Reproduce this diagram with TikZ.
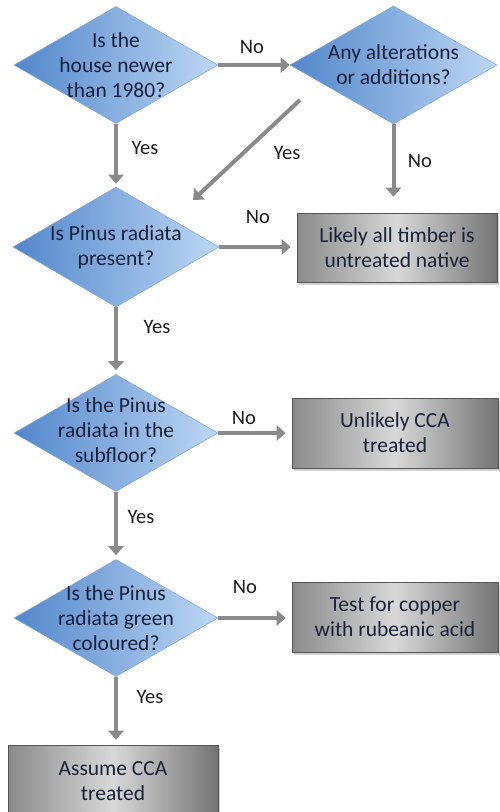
\documentclass[tikz,border=0pt]{standalone}
\usepackage{fontspec}
\setmainfont{Carlito}
\usetikzlibrary{shapes.geometric,arrows.meta,shadows}
\definecolor{diaL}{HTML}{5286CC}
\definecolor{diaR}{HTML}{BDD7F3}
\definecolor{diaB}{HTML}{7FA9DA}
\definecolor{txtC}{HTML}{17213A}
\definecolor{boxL}{HTML}{8A8A8A}
\definecolor{boxM}{HTML}{D8D8D8}
\definecolor{boxR}{HTML}{747474}
\definecolor{boxB}{HTML}{555555}
\definecolor{arrC}{HTML}{8A8A8A}
\definecolor{lblC}{HTML}{1C1C1C}
\begin{document}
\begin{tikzpicture}[x=1pt,y=-1pt,
  dia/.style={diamond, draw=diaB, line width=0.6pt, left color=diaL, right color=diaR,
    minimum width=204pt, minimum height=117pt, inner sep=0pt},
  dtxt/.style={align=center, font=\fontsize{21.5}{25}\selectfont, text=txtC, inner sep=0pt},
  endbox/.style={rectangle, draw=boxB, line width=0.6pt, left color=boxL, right color=boxR, middle color=boxM,
    minimum width=206pt, minimum height=70pt, align=center, inner sep=0pt,
    font=\fontsize{21.5}{25}\selectfont, text=txtC,
    drop shadow={opacity=0.35, shadow xshift=1.5pt, shadow yshift=-2.5pt}},
  arr/.style={draw=arrC, line width=4pt, -{Triangle[width=15pt,length=9pt]}},
  lbl/.style={font=\fontsize{20.5}{24}\selectfont, text=lblC, inner sep=0pt}
]
\useasboundingbox (0,0) rectangle (499,812);
\fill[white] (0,0) rectangle (499,812);

% decisions
\node[dia] (d1) at (116,65) {};
\node[dtxt] (t1) at (d1) {Is the\\house newer\\than 1980?};
\node[dia, minimum width=207pt, minimum height=118pt] (d2) at (393.5,65) {};
\node[dtxt] (t2) at (d2) {Any alterations\\or additions?};
\node[dia, minimum width=206pt, minimum height=120pt] (d3) at (116,247) {};
\node[dtxt] (t3) at (d3) {Is Pinus radiata\\present?};
\node[dia] (d4) at (116,433) {};
\node[dtxt] (t4) at ([yshift=3pt]d4.center) {Is the Pinus\\radiata in the\\subfloor?};
\node[dia] (d5) at (116,618) {};
\node[dtxt] (t5) at (d5) {Is the Pinus\\radiata green\\coloured?};

% end boxes
\node[endbox, minimum width=200pt, minimum height=69pt] (b1) at (397,247.5) {Likely all timber is\\untreated native};
\node[endbox, minimum height=70pt] (b2) at (395,433) {Unlikely CCA\\treated};
\node[endbox, minimum height=70pt] (b3) at (395,617) {Test for copper\\with rubeanic acid};
\node[endbox, minimum width=210pt, minimum height=72pt] (b4) at (113,781) {Assume CCA\\treated};

% connectors
\draw[arr] (d1.east) -- (d2.west);
\draw[arr, shorten >=3pt] (d1.south) -- (d3.north);
\coordinate (ys) at (300,100);
\coordinate (ye) at (193,200);
\draw[arr] (ys) -- (ye);
\draw[arr, shorten >=16pt] (d2.south) -- (d2.south |- b1.north);
\draw[arr, shorten >=6pt] (d3.east) -- (d3.east -| b1.west);
\draw[arr, shorten >=4pt] (d3.south) -- (d4.north);
\draw[arr, shorten >=6pt] (d4.east) -- (d4.east -| b2.west);
\draw[arr, shorten >=4pt] (d4.south) -- (d5.north);
\draw[arr, shorten >=6pt] (d5.east) -- (d5.east -| b3.west);
\draw[arr, shorten >=5pt] (d5.south) -- (d5.south |- b4.north);

% labels
\node[lbl] (l1) at (252,47) {No};
\node[lbl] (l2) at (145,148) {Yes};
\node[lbl] (l3) at (287,153) {Yes};
\node[lbl] (l4) at (420,161) {No};
\node[lbl] (l5) at (258,217) {No};
\node[lbl] (l6) at (157,327) {Yes};
\node[lbl] (l7) at (244,418) {No};
\node[lbl] (l8) at (141,517) {Yes};
\node[lbl] (l9) at (245,587) {No};
\node[lbl] (l10) at (150,697) {Yes};
\end{tikzpicture}
\end{document}
